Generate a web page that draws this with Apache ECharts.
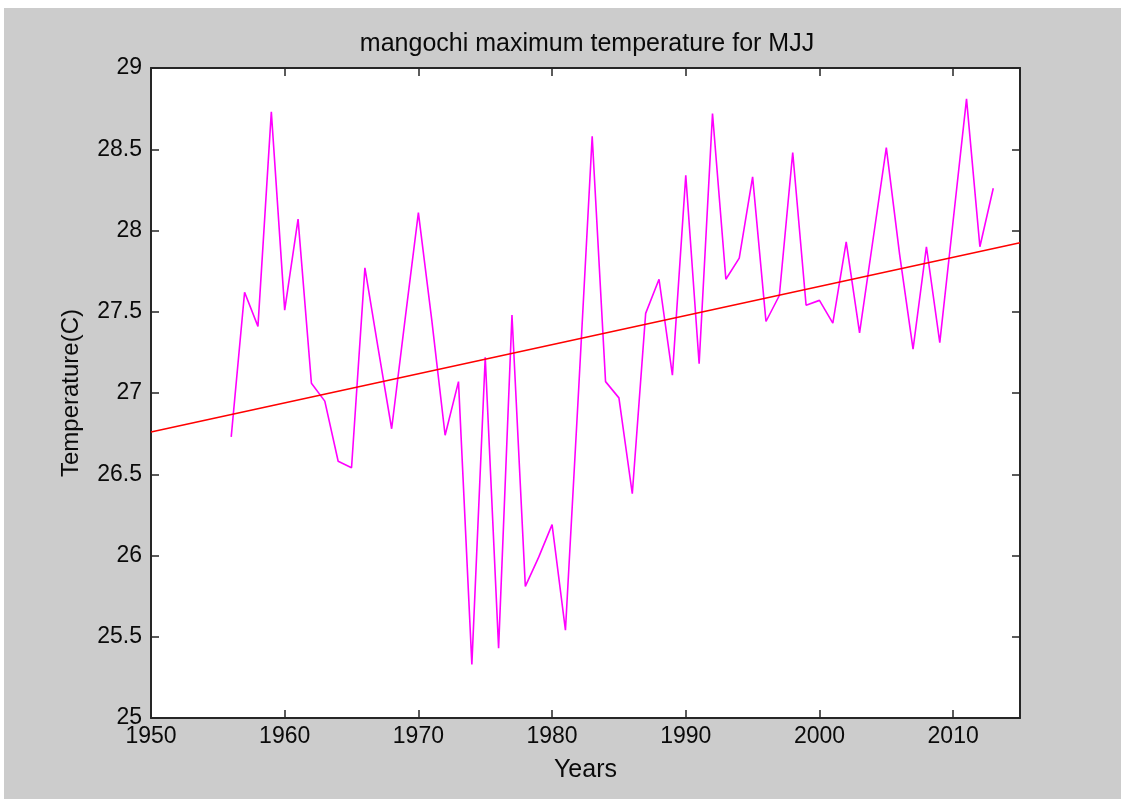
<!DOCTYPE html>
<html>
<head>
<meta charset="utf-8">
<script src="https://cdn.jsdelivr.net/npm/echarts@6/dist/echarts.min.js"></script>
<style>
html,body{margin:0;padding:0;background:#ffffff;}
#chart{width:1121px;height:799px;}
</style>
</head>
<body>
<div id="chart"></div>
<script>
// ---- data ----
const years = [1956,1957,1958,1959,1960,1961,1962,1963,1964,1965,1966,1967,1968,1969,1970,1971,1972,1973,1974,1975,1976,1977,1978,1979,1980,1981,1982,1983,1984,1985,1986,1987,1988,1989,1990,1991,1992,1993,1994,1995,1996,1997,1998,1999,2000,2001,2002,2003,2004,2005,2006,2007,2008,2009,2010,2011,2012,2013];
const maxTemp = [26.73,27.62,27.41,28.73,27.51,28.07,27.06,26.95,26.58,26.54,27.77,27.27,26.78,27.45,28.11,27.45,26.74,27.07,25.33,27.22,25.43,27.48,25.81,25.99,26.19,25.54,27.04,28.58,27.07,26.97,26.38,27.49,27.70,27.11,28.34,27.18,28.72,27.70,27.83,28.33,27.44,27.60,28.48,27.54,27.57,27.43,27.93,27.37,27.94,28.51,27.85,27.27,27.90,27.31,28.06,28.81,27.90,28.26];
const trendYears = [1950, 2015];
const trendValues = [26.76, 27.925];
const xTicks = [1950,1960,1970,1980,1990,2000,2010];
const yTicks = [25,25.5,26,26.5,27,27.5,28,28.5,29];

const titleText = 'mangochi maximum temperature for MJJ';
const xName = 'Years';
const yName = 'Temperature(C)';

const FONT = 'Liberation Sans';
const AXC = '#262626';
const TXT = '#0a0a0a';

const tempPairs = years.map((y, i) => [y, maxTemp[i]]);
const trendPairs = trendYears.map((y, i) => [y, trendValues[i]]);

const chart = echarts.init(document.getElementById('chart'));

function xAxisCfg(pos, showLabels) {
  return {
    type: 'value', position: pos,
    min: xTicks[0], max: 2015, interval: 10,
    name: showLabels ? xName : '', nameLocation: 'middle', nameGap: 40,
    nameTextStyle: {fontFamily: FONT, fontSize: 25, color: TXT},
    axisLine: {show: true, onZero: false, lineStyle: {color: AXC, width: 2}},
    axisTick: {show: true, inside: true, length: 8, lineStyle: {color: AXC, width: 1.5}},
    axisLabel: {
      show: showLabels, showMaxLabel: false, margin: 7,
      fontFamily: FONT, fontSize: 23, color: TXT,
      formatter: v => (xTicks.indexOf(v) >= 0 ? String(v) : '')
    },
    splitLine: {show: false}
  };
}
function yAxisCfg(pos, showLabels) {
  return {
    type: 'value', position: pos,
    min: yTicks[0], max: yTicks[yTicks.length - 1], interval: 0.5,
    name: showLabels ? yName : '', nameLocation: 'middle', nameGap: 68,
    nameTextStyle: {fontFamily: FONT, fontSize: 24, color: TXT},
    axisLine: {show: true, onZero: false, lineStyle: {color: AXC, width: 2}},
    axisTick: {show: true, inside: true, length: 8, lineStyle: {color: AXC, width: 1.5}},
    axisLabel: {show: showLabels, margin: 9, fontFamily: FONT, fontSize: 23, color: TXT,
      formatter: v => String(v)},
    splitLine: {show: false}
  };
}

chart.setOption({
  animation: false,
  backgroundColor: '#cccccc',
  title: {
    text: titleText,
    left: 582, top: 27, textAlign: 'center',
    textStyle: {fontFamily: FONT, fontSize: 25, fontWeight: 'normal', color: TXT}
  },
  graphic: [
    {type: 'rect', left: 0, top: 0, shape: {width: 1121, height: 8}, style: {fill: '#ffffff'}, z: 100},
    {type: 'rect', left: 0, top: 0, shape: {width: 4, height: 799}, style: {fill: '#ffffff'}, z: 100}
  ],
  grid: {left: 151, top: 68, right: 101, bottom: 81, show: true, backgroundColor: '#ffffff', borderWidth: 0, containLabel: false},
  xAxis: [xAxisCfg('bottom', true), xAxisCfg('top', false)],
  yAxis: [yAxisCfg('left', true), yAxisCfg('right', false)],
  series: [
    {
      type: 'line', data: tempPairs, xAxisIndex: 0, yAxisIndex: 0,
      showSymbol: false, symbol: 'none',
      lineStyle: {color: '#ff00ff', width: 1.6}, itemStyle: {color: '#ff00ff'}, z: 3
    },
    {
      type: 'line', data: trendPairs, xAxisIndex: 0, yAxisIndex: 0,
      showSymbol: false, symbol: 'none',
      lineStyle: {color: '#ff0000', width: 1.6}, itemStyle: {color: '#ff0000'}, z: 4
    }
  ]
});
</script>
</body>
</html>
